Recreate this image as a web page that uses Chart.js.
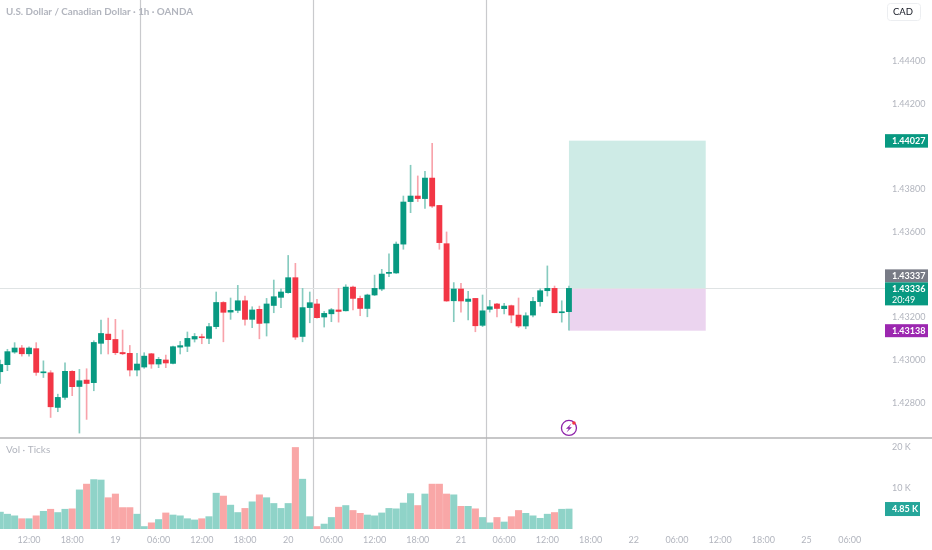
<!DOCTYPE html>
<html>
<head>
<meta charset="utf-8">
<title>USDCAD 1h</title>
<script src="https://cdn.jsdelivr.net/npm/chart.js@4/dist/chart.umd.min.js"></script>
<style>
    html, body { margin: 0; padding: 0; background: #ffffff; overflow: hidden; }
    canvas { display: block; }
</style>
</head>
<body>
<canvas id="chart" width="932" height="550"></canvas>
<script>
const opens = [
    1.42946, 1.42979, 1.43038, 1.43057, 1.43030, 1.43054, 1.42941, 1.42941, 1.42779, 1.42826,
    1.42948, 1.42877, 1.42907, 1.42895, 1.43079, 1.43122, 1.43097, 1.43036, 1.43032, 1.42954,
    1.42968, 1.43030, 1.42982, 1.43001, 1.42985, 1.43061, 1.43065, 1.43099, 1.43108, 1.43102,
    1.43157, 1.43270, 1.43225, 1.43233, 1.43278, 1.43191, 1.43238, 1.43174, 1.43256, 1.43294,
    1.43316, 1.43386, 1.43111, 1.43246, 1.43263, 1.43202, 1.43217, 1.43235, 1.43231, 1.43342,
    1.43289, 1.43242, 1.43305, 1.43333, 1.43406, 1.43408, 1.43543, 1.43742, 1.43768, 1.43756,
    1.43852, 1.43724, 1.43545, 1.43278, 1.43333, 1.43275, 1.43289, 1.43163, 1.43238, 1.43263,
    1.43241, 1.43255, 1.43211, 1.43160, 1.43211, 1.43274, 1.43325, 1.43336, 1.43222, 1.43227
];
const highs = [
    1.43001, 1.43051, 1.43082, 1.43069, 1.43063, 1.43082, 1.42997, 1.42951, 1.42841, 1.42988,
    1.42951, 1.42957, 1.42960, 1.43091, 1.43188, 1.43197, 1.43191, 1.43141, 1.43069, 1.43032,
    1.43035, 1.43032, 1.43013, 1.43024, 1.43066, 1.43088, 1.43132, 1.43125, 1.43122, 1.43172,
    1.43319, 1.43274, 1.43291, 1.43350, 1.43300, 1.43250, 1.43253, 1.43289, 1.43375, 1.43334,
    1.43490, 1.43453, 1.43336, 1.43319, 1.43285, 1.43228, 1.43242, 1.43336, 1.43353, 1.43347,
    1.43300, 1.43309, 1.43398, 1.43425, 1.43497, 1.43553, 1.43768, 1.43912, 1.43862, 1.43884,
    1.44015, 1.43724, 1.43600, 1.43363, 1.43359, 1.43322, 1.43289, 1.43305, 1.43280, 1.43266,
    1.43266, 1.43258, 1.43291, 1.43222, 1.43294, 1.43334, 1.43441, 1.43347, 1.43278, 1.43347
];
const lows = [
    1.42891, 1.42951, 1.43032, 1.43019, 1.43019, 1.42929, 1.42919, 1.42732, 1.42759, 1.42817,
    1.42834, 1.42659, 1.42723, 1.42857, 1.43029, 1.43029, 1.43026, 1.43026, 1.42926, 1.42927,
    1.42962, 1.42962, 1.42965, 1.42965, 1.42982, 1.43029, 1.43040, 1.43085, 1.43077, 1.43077,
    1.43147, 1.43086, 1.43191, 1.43222, 1.43164, 1.43152, 1.43100, 1.43113, 1.43222, 1.43246,
    1.43313, 1.43097, 1.43086, 1.43175, 1.43196, 1.43155, 1.43180, 1.43178, 1.43230, 1.43235,
    1.43208, 1.43203, 1.43302, 1.43325, 1.43391, 1.43406, 1.43519, 1.43690, 1.43742, 1.43710,
    1.43715, 1.43519, 1.43275, 1.43180, 1.43225, 1.43188, 1.43133, 1.43157, 1.43225, 1.43203,
    1.43216, 1.43175, 1.43153, 1.43147, 1.43203, 1.43253, 1.43300, 1.43222, 1.43178, 1.43141
];
const closes = [
    1.42980, 1.43040, 1.43057, 1.43030, 1.43057, 1.42943, 1.42944, 1.42782, 1.42826, 1.42948,
    1.42876, 1.42904, 1.42891, 1.43083, 1.43125, 1.43096, 1.43035, 1.43030, 1.42954, 1.42982,
    1.43019, 1.42982, 1.43004, 1.42987, 1.43063, 1.43068, 1.43102, 1.43111, 1.43105, 1.43157,
    1.43270, 1.43224, 1.43233, 1.43278, 1.43191, 1.43235, 1.43172, 1.43263, 1.43297, 1.43319,
    1.43386, 1.43108, 1.43246, 1.43269, 1.43199, 1.43219, 1.43236, 1.43228, 1.43342, 1.43289,
    1.43242, 1.43305, 1.43336, 1.43403, 1.43411, 1.43543, 1.43740, 1.43768, 1.43756, 1.43852,
    1.43721, 1.43550, 1.43277, 1.43333, 1.43277, 1.43286, 1.43161, 1.43231, 1.43250, 1.43242,
    1.43253, 1.43211, 1.43160, 1.43208, 1.43275, 1.43325, 1.43336, 1.43222, 1.43225, 1.43336
];
const volumes = [
    4100, 3600, 3200, 2500, 2500, 3200, 4300, 4800, 4000, 4800,
    4900, 9500, 10900, 12000, 11900, 7600, 8500, 5200, 5200, 3600,
    600, 1500, 2300, 3900, 3400, 3200, 2500, 2200, 2500, 3000,
    8700, 8000, 5800, 4000, 5000, 6600, 8300, 7600, 6200, 5000,
    6200, 19800, 12100, 3000, 600, 1200, 2800, 5300, 5700, 4500,
    3800, 3400, 3200, 3900, 5000, 4900, 6300, 8600, 5700, 8500,
    10900, 10900, 8500, 8300, 5500, 5500, 4900, 2800, 1500, 2800,
    1700, 3000, 4500, 3800, 3200, 2600, 3600, 4000, 4800, 4850
];
const volumeUp = [
    1, 1, 1, 0, 1, 0, 1, 0, 1, 1,
    0, 1, 0, 1, 1, 0, 0, 0, 0, 1,
    1, 0, 1, 0, 1, 1, 1, 1, 0, 1,
    1, 0, 1, 1, 0, 1, 0, 1, 1, 1,
    1, 0, 1, 1, 0, 1, 1, 0, 1, 0,
    0, 1, 1, 1, 1, 1, 1, 1, 0, 1,
    0, 0, 0, 1, 0, 1, 0, 1, 1, 0,
    1, 0, 0, 1, 1, 1, 1, 0, 1, 1
];

const timeTickPositions = [4, 10, 16, 22, 28, 34, 40, 46, 52, 58, 64, 70, 76, 82, 88, 94, 100, 106, 112, 118];
const timeTickLabels = ['12:00', '18:00', '19', '06:00', '12:00', '18:00', '20', '06:00', '12:00', '18:00', '21', '06:00', '12:00', '18:00', '22', '06:00', '12:00', '18:00', '25', '06:00'];
const priceTicks = [1.428, 1.430, 1.432, 1.436, 1.438, 1.442, 1.444];
const volumeTicks = [10000, 20000];

const sessionLines = [19.45, 43.45, 67.45];
const lastPrice = 1.43336;
const bidPrice = 1.43337;
const targetPrice = 1.44027;
const stopPrice = 1.43138;
const positionStart = 79;
const positionEnd = 98;
const lastVolumeLabel = '4.85 K';
const countdown = '20:49';
const boltPosition = [79, 1.42683];

const GREEN = '#089981';
const RED = '#f23645';
const MUTED = '#b2b5be';
const FONT = 'Lato, "Open Sans", sans-serif';

function indexed(fn) {
    return opens.map((_, i) => ({ x: i, y: fn(i) }));
}

function badge(ctx, x, y, w, h, color, lines) {
    ctx.fillStyle = color;
    ctx.fillRect(x, y, w, h);
    ctx.fillStyle = '#ffffff';
    ctx.textAlign = 'left';
    ctx.textBaseline = 'middle';
    lines.forEach((line, i) => {
        ctx.font = (i === 0 ? 'bold ' : '') + '9px ' + FONT;
        ctx.fillText(line, x + 7, y + 6.8 + i * 10.5);
    });
}

const overlayPlugin = {
    id: 'overlay',
    beforeDatasetsDraw(chart) {
        const { ctx, scales, chartArea } = chart;
        const px = scales.x, py = scales.y;
        const left = px.getPixelForValue(positionStart);
        const right = px.getPixelForValue(positionEnd);
        const entry = py.getPixelForValue(lastPrice);
        ctx.save();
        ctx.fillStyle = 'rgba(8,153,129,0.2)';
        ctx.fillRect(left, py.getPixelForValue(targetPrice), right - left, entry - py.getPixelForValue(targetPrice));
        ctx.fillStyle = 'rgba(156,39,176,0.2)';
        ctx.fillRect(left, entry, right - left, py.getPixelForValue(stopPrice) - entry);

        ctx.strokeStyle = '#c9cacd';
        ctx.lineWidth = 1.2;
        sessionLines.forEach(v => {
            const x = Math.round(px.getPixelForValue(v)) + 0.5;
            ctx.beginPath();
            ctx.moveTo(x, 0);
            ctx.lineTo(x, chartArea.bottom);
            ctx.stroke();
        });
        ctx.strokeStyle = '#dfe3e4';
        ctx.lineWidth = 1;
        ctx.beginPath();
        ctx.moveTo(chartArea.left, Math.round(entry) + 0.5);
        ctx.lineTo(chartArea.right, Math.round(entry) + 0.5);
        ctx.stroke();
        ctx.restore();
    },
    afterDraw(chart) {
        const { ctx, scales, chartArea, width } = chart;
        const py = scales.y, pv = scales.vol;
        const bx = chartArea.right;
        ctx.save();

        // pane divider
        ctx.strokeStyle = '#b4b4b6';
        ctx.lineWidth = 1.5;
        ctx.beginPath();
        ctx.moveTo(0, py.bottom);
        ctx.lineTo(width, py.bottom);
        ctx.stroke();

        // captions
        ctx.fillStyle = MUTED;
        ctx.textAlign = 'left';
        ctx.textBaseline = 'middle';
        ctx.font = 'bold 9.8px ' + FONT;
        ctx.fillText('U.S. Dollar / Canadian Dollar · 1h · OANDA', 6, 12);
        ctx.font = '10px ' + FONT;
        ctx.fillText('Vol · Ticks', 6, 450);

        // currency box
        ctx.strokeStyle = '#eceef1';
        ctx.lineWidth = 1;
        ctx.beginPath();
        ctx.roundRect(887.5, 3.5, 33, 17, 3);
        ctx.stroke();
        ctx.fillStyle = '#131722';
        ctx.textAlign = 'center';
        ctx.font = '9.5px ' + FONT;
        ctx.fillText('CAD', 903, 12);

        // price badges
        const yTarget = py.getPixelForValue(targetPrice);
        const yLast = py.getPixelForValue(lastPrice);
        const yStop = py.getPixelForValue(stopPrice);
        badge(ctx, bx, yTarget - 6.5, 43, 13.5, GREEN, [targetPrice.toFixed(5)]);
        badge(ctx, bx, yLast - 19, 43, 13, '#787b86', [bidPrice.toFixed(5)]);
        badge(ctx, bx, yLast - 6, 43, 23, GREEN, [lastPrice.toFixed(5), countdown]);
        badge(ctx, bx, yStop - 6.5, 43, 13, '#9c27b0', [stopPrice.toFixed(5)]);
        badge(ctx, bx, pv.getPixelForValue(volumes[volumes.length - 1]) - 7, 35, 14, '#26a69a', [lastVolumeLabel]);

        // lightning marker
        const cx = scales.x.getPixelForValue(boltPosition[0]);
        const cy = py.getPixelForValue(boltPosition[1]);
        ctx.strokeStyle = '#8e24aa';
        ctx.lineWidth = 1.3;
        ctx.beginPath();
        ctx.arc(cx, cy, 7.5, 0, Math.PI * 2);
        ctx.stroke();
        ctx.fillStyle = '#8e24aa';
        ctx.beginPath();
        ctx.moveTo(cx + 2.5, cy - 4.5);
        ctx.lineTo(cx - 3, cy + 0.8);
        ctx.lineTo(cx - 0.2, cy + 0.8);
        ctx.lineTo(cx - 2.5, cy + 4.5);
        ctx.lineTo(cx + 3, cy - 0.8);
        ctx.lineTo(cx + 0.2, cy - 0.8);
        ctx.closePath();
        ctx.fill();
        ctx.fillStyle = '#f23645';
        ctx.beginPath();
        ctx.arc(cx + 5, cy - 5, 1.8, 0, Math.PI * 2);
        ctx.fill();
        ctx.restore();
    }
};

// right axes: fixed width and no half-label padding, so the panes fill the canvas
function fitRightAxis(scale) {
    scale.width = 47;
    scale.paddingTop = 0;
    scale.paddingBottom = 0;
}

const config = {
    type: 'bar',
    data: {
        datasets: [
            {
                label: 'Wick',
                data: indexed(i => [lows[i], highs[i]]),
                backgroundColor: opens.map((o, i) => closes[i] >= o ? '#86cbbf' : '#f8a3ab'),
                barThickness: 1,
                grouped: false,
                yAxisID: 'y',
                order: 2,
            },
            {
                label: 'Body',
                data: indexed(i => [opens[i], closes[i]]),
                backgroundColor: opens.map((o, i) => closes[i] >= o ? GREEN : RED),
                barThickness: 5.2,
                minBarLength: 1,
                grouped: false,
                yAxisID: 'y',
                order: 1,
            },
            {
                label: 'Volume',
                data: indexed(i => volumes[i]),
                backgroundColor: volumeUp.map(up => up ? '#8fd3c8' : '#f9a7a7'),
                barThickness: 6.4,
                grouped: false,
                yAxisID: 'vol',
                order: 3,
            },
        ],
    },
    options: {
        responsive: false,
        animation: false,
        devicePixelRatio: 1,
        layout: { padding: 0 },
        plugins: { legend: { display: false }, tooltip: { enabled: false } },
        scales: {
            x: {
                type: 'linear',
                offset: false,
                min: -0.03,
                max: 122.9,
                grid: { display: false, drawTicks: false },
                border: { display: false },
                afterBuildTicks(scale) {
                    scale.ticks = timeTickPositions.map(v => ({ value: v }));
                },
                afterFit(scale) { scale.height = 21; },
                ticks: {
                    autoSkip: false,
                    maxRotation: 0,
                    padding: 6,
                    color: MUTED,
                    font: { family: FONT, size: 9 },
                    callback: (value) => timeTickLabels[timeTickPositions.indexOf(value)],
                },
            },
            y: {
                position: 'right',
                stack: 'panes',
                stackWeight: 438,
                min: 1.42636,
                max: 1.44685,
                grid: { display: false, drawTicks: false },
                border: { display: false },
                afterBuildTicks(scale) {
                    scale.ticks = priceTicks.map(v => ({ value: v }));
                },
                afterFit: fitRightAxis,
                ticks: {
                    padding: 7,
                    crossAlign: 'near',
                    color: MUTED,
                    font: { family: FONT, size: 9 },
                    callback: (value) => value.toFixed(5),
                },
            },
            vol: {
                position: 'right',
                stack: 'panes',
                stackWeight: 91,
                min: 0,
                max: 22100,
                grid: { display: false, drawTicks: false },
                border: { display: false },
                afterBuildTicks(scale) {
                    scale.ticks = volumeTicks.map(v => ({ value: v }));
                },
                afterFit: fitRightAxis,
                ticks: {
                    padding: 7,
                    crossAlign: 'near',
                    color: MUTED,
                    font: { family: FONT, size: 9 },
                    callback: (value) => (value / 1000) + ' K',
                },
            },
        },
    },
    plugins: [overlayPlugin],
};

new Chart(document.getElementById('chart'), config);
</script>
</body>
</html>
